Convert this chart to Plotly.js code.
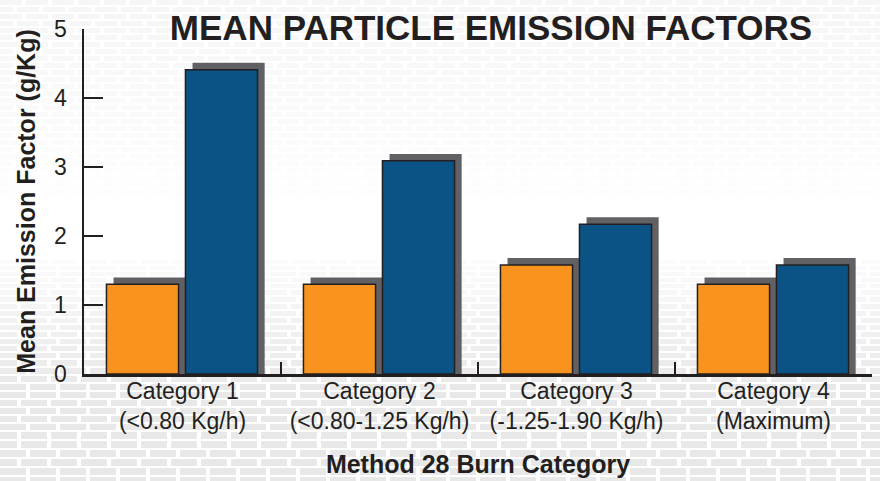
<!DOCTYPE html>
<html>
<head>
<meta charset="utf-8">
<script src="https://cdn.plot.ly/plotly-3.0.1.min.js"></script>
<style>
  html, body { margin: 0; padding: 0; background: #ffffff; }
  #chart { width: 880px; height: 481px; }
</style>
</head>
<body>
<div id="chart"></div>
<script>
// ---- data ----
var categories = [
  "Category 1<br>(<0.80 Kg/h)",
  "Category 2<br>(<0.80-1.25 Kg/h)",
  "Category 3<br>(-1.25-1.90 Kg/h)",
  "Category 4<br>(Maximum)"
];
var seriesOrange = [1.30, 1.30, 1.58, 1.30];
var seriesBlue = [4.41, 3.09, 2.17, 1.58];
var yTickValues = [0, 1, 2, 3, 4, 5];
var yTickLabels = ["0", "1", "2", "3", "4", "5"];

// ---- style ----
var orange = "#F7931E";
var blue = "#0B5384";
var shadowColor = "#616165";
var outline = "#231f20";
var shadowLift = 0.10;     // data units the drop shadow rises above a bar
var barWidth = 0.366;      // category units
var orangeOffset = -0.386;
var blueOffset = 0.015;
var shadowShift = 0.036;

function lifted(arr) { return arr.map(function (v) { return v + shadowLift; }); }

// background texture (decorative)
function makeTexture() {
  var W = 880, H = 481;
  var c = document.createElement("canvas");
  c.width = W; c.height = H;
  var g = c.getContext("2d");
  g.fillStyle = "#ffffff";
  g.fillRect(0, 0, W, H);
  var y = 0;
  while (y < H) {
    var rowH, alpha;
    if (y < 190) {
      rowH = 5;
      alpha = 0.09 * (1 - y / 230);
    } else if (y < 255) {
      rowH = 6; alpha = 0.0;
    } else {
      rowH = 4 + Math.round((y - 255) / 70);
      alpha = Math.min(0.22, 0.03 + (y - 255) / 700);
    }
    var dashW = (y < 190) ? 22 : 26;
    var gap = 4;
    var shift = ((Math.floor(y / 7)) % 2) * 9;
    g.fillStyle = "rgba(150,150,150," + alpha + ")";
    for (var x = -shift; x < W; x += dashW + gap) {
      g.fillRect(x, y, dashW, rowH);
    }
    y += rowH + 2;
  }
  return c.toDataURL("image/png");
}

var traces = [
  { type: "bar", x: categories, y: lifted(seriesOrange), width: barWidth, offset: orangeOffset + shadowShift,
    marker: { color: shadowColor, line: { width: 0 } }, hoverinfo: "skip", showlegend: false },
  { type: "bar", x: categories, y: lifted(seriesBlue), width: barWidth, offset: blueOffset + shadowShift,
    marker: { color: shadowColor, line: { width: 0 } }, hoverinfo: "skip", showlegend: false },
  { type: "bar", name: "Orange", x: categories, y: seriesOrange, width: barWidth, offset: orangeOffset,
    marker: { color: orange, line: { color: outline, width: 1.5 } }, showlegend: false },
  { type: "bar", name: "Blue", x: categories, y: seriesBlue, width: barWidth, offset: blueOffset,
    marker: { color: blue, line: { color: outline, width: 1.5 } }, showlegend: false }
];

var layout = {
  width: 880, height: 481,
  margin: { l: 84, r: 8, t: 29, b: 107 },
  paper_bgcolor: "rgba(0,0,0,0)",
  plot_bgcolor: "rgba(0,0,0,0)",
  barmode: "overlay",
  font: { family: "Liberation Sans, Arial, sans-serif", color: outline },
  title: {
    text: "<b>MEAN PARTICLE EMISSION FACTORS</b>",
    font: { family: "Liberation Sans, Arial, sans-serif", size: 35, color: outline },
    x: 0.558, xanchor: "center", xref: "container",
    y: 0.943, yanchor: "middle"
  },
  xaxis: {
    type: "category",
    range: [-0.5, 3.5],
    showline: true, linecolor: outline, linewidth: 2.5,
    ticks: "inside", tickson: "boundaries", ticklen: 12, tickwidth: 2, tickcolor: outline,
    tickfont: { size: 23, color: outline },
    ticklabelstandoff: -5,
    showgrid: false, zeroline: false, fixedrange: true,
    title: { text: "<b>Method 28 Burn Category</b>", font: { size: 25, color: outline }, standoff: 23 }
  },
  yaxis: {
    range: [0, 5],
    tickmode: "array", tickvals: yTickValues, ticktext: yTickLabels,
    showline: true, linecolor: outline, linewidth: 2.5,
    ticks: "inside", ticklen: 19, tickwidth: 2.5, tickcolor: outline,
    tickfont: { size: 23, color: outline },
    ticklabelstandoff: 10,
    showgrid: false, zeroline: false, fixedrange: true,
    title: { text: "<b>Mean Emission Factor (g/Kg)</b>", font: { size: 25, color: outline }, standoff: 12 }
  },
  images: [{
    source: makeTexture(), xref: "paper", yref: "paper",
    x: -84 / 788, y: 1 + 29 / 345, sizex: 880 / 788, sizey: 481 / 345,
    xanchor: "left", yanchor: "top", sizing: "stretch", layer: "below"
  }]
};

Plotly.newPlot("chart", traces, layout, { staticPlot: true, displayModeBar: false });
</script>
</body>
</html>
